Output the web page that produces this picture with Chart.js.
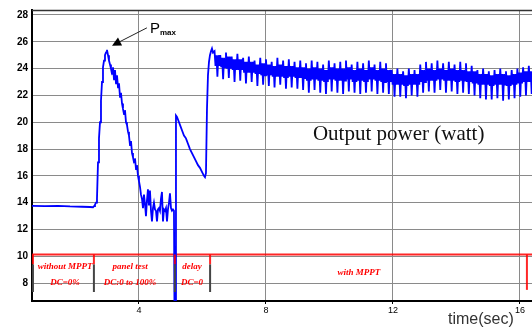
<!DOCTYPE html>
<html>
<head>
<meta charset="utf-8">
<script src="https://cdn.jsdelivr.net/npm/chart.js@4.4.1/dist/chart.umd.min.js"></script>
<style>
  html, body { margin: 0; padding: 0; background: #fff; }
  #wrap { width: 532px; height: 332px; }
</style>
</head>
<body>
<div id="wrap"><canvas id="powerChart" width="532" height="332"></canvas></div>
<script>
// axis ranges and tick labels
const xRange = [0.63, 16.38];
const yRange = [6.67, 28.37];
const xTicks = [4, 8, 12, 16];
const yTicks = [8, 10, 12, 14, 16, 18, 20, 22, 24, 26, 28];

// start-up part of the trace, [time (s), power (W)]
const startupTrace = [
  [0.630, 13.76], [1.039, 13.74], [1.449, 13.77], [1.827, 13.72], [2.205, 13.70], [2.457, 13.68], [2.551, 13.66],
  [2.583, 13.75], [2.614, 13.85], [2.646, 14.0], [2.677, 14.3], [2.709, 17.0], [2.740, 18.8], [2.772, 20.0],
  [2.803, 21.6], [2.835, 23.0], [2.866, 24.1], [2.898, 24.6], [2.929, 25.0], [2.961, 25.2], [2.992, 25.4],
  [3.024, 25.0], [3.055, 24.6], [3.087, 24.3], [3.118, 24.0], [3.150, 23.6], [3.181, 24.1], [3.213, 23.2],
  [3.244, 23.9], [3.276, 22.9], [3.307, 23.5], [3.339, 22.6], [3.370, 22.9], [3.402, 21.9], [3.433, 22.2],
  [3.465, 21.4], [3.496, 21.0], [3.528, 20.6], [3.559, 20.9], [3.591, 20.0], [3.622, 19.8], [3.654, 19.3],
  [3.685, 19.0], [3.717, 18.3], [3.748, 18.6], [3.780, 17.7], [3.811, 17.4], [3.843, 17.0], [3.874, 17.3],
  [3.906, 16.5], [3.937, 16.8], [3.969, 16.0], [4.000, 15.6], [4.031, 15.2], [4.063, 14.6], [4.094, 14.3],
  [4.126, 13.6], [4.157, 14.6], [4.189, 13.9], [4.220, 13.0], [4.252, 14.2], [4.283, 15.0], [4.315, 13.8],
  [4.346, 14.9], [4.378, 13.4], [4.409, 12.6], [4.441, 13.6], [4.472, 14.0], [4.504, 13.5], [4.535, 13.4],
  [4.567, 12.6], [4.598, 13.5], [4.630, 13.6], [4.661, 13.4], [4.693, 14.3], [4.724, 14.8], [4.756, 12.6],
  [4.787, 13.5], [4.819, 13.4], [4.850, 13.6], [4.882, 12.6], [4.913, 13.5], [4.945, 14.0], [4.976, 14.7],
  [5.008, 13.6], [5.039, 13.4], [5.071, 13.5], [5.102, 13.4], [5.118, 6.0], [5.150, 6.0], [5.165, 20.5],
  [5.197, 20.4], [5.228, 20.2], [5.291, 19.8], [5.354, 19.4], [5.417, 19.0], [5.480, 18.8], [5.543, 18.4],
  [5.606, 18.0], [5.669, 17.7], [5.732, 17.4], [5.795, 17.1], [5.858, 16.8], [5.921, 16.6], [5.984, 16.3],
  [6.047, 16.0], [6.079, 15.9], [6.110, 16.2], [6.142, 21.0], [6.173, 23.5], [6.205, 24.5], [6.236, 25.0],
  [6.268, 25.3], [6.299, 25.5], [6.331, 25.2]
];

// steady MPPT ripple, per cycle: upper spike, band top, band bottom, lower spike
const steadyStart = 6.38;
const rippleCycle = 0.18;
const steadyPeaks = [25.3, 25.0, 25.2, 24.9, 25.1,
  24.8, 24.9, 24.6, 24.8, 24.7, 24.5, 24.8, 24.6, 24.7, 24.5, 24.6,
  24.4, 24.6, 24.5, 24.3, 24.6, 24.4, 24.5, 24.6, 24.3, 24.5, 24.4, 24.6, 24.3, 24.5, 24.4,
  23.9, 24.0, 23.8, 24.0, 23.9,
  24.3, 24.5, 24.4, 24.6, 24.4, 24.5, 24.3, 24.5, 24.4, 24.2,
  23.9, 24.0, 23.8, 23.9, 24.0, 23.8, 23.9, 24.0,
  24.1, 24.2];
const steadyBandTop = [25.0, 24.8, 24.9, 24.7, 24.7,
  24.5, 24.5, 24.3, 24.4, 24.3, 24.2, 24.3, 24.2, 24.2, 24.1, 24.1,
  24.0, 24.1, 24.0, 23.9, 24.1, 24.0, 24.0, 24.1, 23.9, 24.0, 23.9, 24.1, 23.9, 24.0, 23.9,
  23.6, 23.6, 23.5, 23.6, 23.6,
  23.9, 24.0, 23.9, 24.0, 23.9, 24.0, 23.9, 23.9, 23.8, 23.8,
  23.6, 23.6, 23.5, 23.6, 23.6, 23.5, 23.6, 23.7,
  23.8, 23.8];
const steadyBandBottom = [24.2, 24.1, 24.0, 23.9, 23.9,
  23.7, 23.7, 23.6, 23.5, 23.5, 23.4, 23.4, 23.3, 23.4, 23.3, 23.3,
  23.1, 23.2, 23.1, 23.0, 23.2, 23.1, 23.1, 23.2, 23.0, 23.1, 23.0, 23.2, 23.1, 23.0, 23.0,
  22.8, 22.8, 22.7, 22.8, 22.8,
  23.0, 23.1, 23.1, 23.2, 23.1, 23.1, 23.0, 23.1, 23.0, 22.9,
  22.8, 22.8, 22.7, 22.8, 22.8, 22.7, 22.8, 22.9,
  23.0, 23.0];
const steadyTroughs = [23.4, 23.2, 23.3, 23.0, 23.1,
  22.9, 23.0, 22.7, 22.8, 22.7, 22.6, 22.8, 22.5, 22.6, 22.5, 22.4,
  22.2, 22.4, 22.2, 22.1, 22.3, 22.2, 22.1, 22.3, 22.2, 22.1, 22.2, 22.3, 22.1, 22.2, 22.1,
  21.9, 21.9, 21.8, 22.0, 21.9,
  22.2, 22.3, 22.2, 22.4, 22.2, 22.3, 22.1, 22.2, 22.1, 22.0,
  21.8, 21.7, 21.7, 21.8, 21.6, 21.7, 21.8, 21.9,
  22.0, 22.1];

// red reference level and the phase boundaries under it
const refLevel = 10.14;
const phaseBounds = [0.66, 2.58, 5.13, 6.24];
const lastBound = 16.22;
const phaseLabels = [
  { t: 1.67, lines: ['without MPPT', 'DC=0%'] },
  { t: 3.72, lines: ['panel test', 'DC:0 to 100%'] },
  { t: 5.67, lines: ['delay', 'DC=0'] },
  { t: 10.93, lines: ['with MPPT'] }
];

// Pmax marker: arrow tail / tip in data units
const pmaxTail = [4.25, 27.04];
const pmaxTip = [3.15, 25.71];

function buildTrace() {
  const pts = startupTrace.map(p => ({ x: p[0], y: p[1] }));
  const step = rippleCycle / 6;
  for (let i = 0; i < steadyPeaks.length; i++) {
    const t0 = steadyStart + i * rippleCycle;
    const cycle = [steadyPeaks[i], steadyBandBottom[i], steadyBandTop[i],
                   steadyTroughs[i], steadyBandTop[i], steadyBandBottom[i]];
    cycle.forEach((v, k) => pts.push({ x: t0 + k * step, y: v }));
  }
  return pts;
}

const extras = {
  id: 'extras',
  afterDatasetsDraw(chart) {
    const ctx = chart.ctx, a = chart.chartArea;
    const sx = chart.scales.x, sy = chart.scales.y;
    const X = v => sx.getPixelForValue(v), Y = v => sy.getPixelForValue(v);
    ctx.save();

    // frame top line
    ctx.strokeStyle = '#333';
    ctx.lineWidth = 1.5;
    ctx.beginPath(); ctx.moveTo(a.left, a.top + 0.5); ctx.lineTo(a.right, a.top + 0.5); ctx.stroke();

    // phase separators: red top, dark below
    phaseBounds.forEach(t => {
      ctx.lineWidth = 2;
      ctx.strokeStyle = 'rgba(255,0,0,0.85)';
      ctx.beginPath(); ctx.moveTo(X(t), Y(refLevel)); ctx.lineTo(X(t), Y(9.4)); ctx.stroke();
      ctx.strokeStyle = '#444';
      ctx.beginPath(); ctx.moveTo(X(t), Y(9.4)); ctx.lineTo(X(t), Y(7.34)); ctx.stroke();
    });
    ctx.strokeStyle = 'rgba(255,0,0,0.85)';
    ctx.beginPath(); ctx.moveTo(X(lastBound), Y(refLevel)); ctx.lineTo(X(lastBound), Y(7.5)); ctx.stroke();

    // phase labels
    ctx.fillStyle = '#ff0000';
    ctx.font = 'italic bold 9px "Liberation Serif"';
    ctx.textAlign = 'center';
    ctx.textBaseline = 'middle';
    phaseLabels.forEach(p => {
      if (p.lines.length === 1) {
        ctx.fillText(p.lines[0], X(p.t), Y(8.8));
      } else {
        ctx.fillText(p.lines[0], X(p.t), Y(9.25));
        ctx.fillText(p.lines[1], X(p.t), Y(8.0));
      }
    });

    // Pmax arrow
    const tx = X(pmaxTail[0]), ty = Y(pmaxTail[1]);
    const hx = X(pmaxTip[0]), hy = Y(pmaxTip[1]);
    const ang = Math.atan2(hy - ty, hx - tx);
    ctx.strokeStyle = '#222';
    ctx.fillStyle = '#000';
    ctx.lineWidth = 1;
    ctx.beginPath(); ctx.moveTo(tx, ty); ctx.lineTo(hx - 7 * Math.cos(ang), hy - 7 * Math.sin(ang)); ctx.stroke();
    ctx.beginPath();
    ctx.moveTo(hx, hy);
    ctx.lineTo(hx - 9 * Math.cos(ang) + 4.5 * Math.sin(ang), hy - 9 * Math.sin(ang) - 4.5 * Math.cos(ang));
    ctx.lineTo(hx - 9 * Math.cos(ang) - 4.5 * Math.sin(ang), hy - 9 * Math.sin(ang) + 4.5 * Math.cos(ang));
    ctx.closePath(); ctx.fill();

    ctx.textAlign = 'left';
    ctx.textBaseline = 'alphabetic';
    ctx.font = '15px "Liberation Sans"';
    ctx.fillText('P', tx + 3, ty + 5);
    ctx.font = 'bold 8px "Liberation Sans"';
    ctx.fillText('max', tx + 13, ty + 7);

    // series caption and axis title
    ctx.fillStyle = '#111';
    ctx.font = '21px "Liberation Serif"';
    ctx.fillText('Output power (watt)', X(9.48), Y(18.7));
    ctx.fillStyle = '#333';
    ctx.font = '16px "Liberation Sans"';
    ctx.textBaseline = 'middle';
    ctx.fillText('time(sec)', 448, 320);
    ctx.restore();
  }
};

new Chart('powerChart', {
  type: 'line',
  data: {
    datasets: [{
      data: buildTrace(),
      borderColor: '#0000ff',
      borderWidth: 1.8,
      pointRadius: 0,
      tension: 0
    }, {
      data: [{ x: xRange[0], y: refLevel }, { x: xRange[1], y: refLevel }],
      borderColor: 'rgba(255,0,0,0.85)',
      borderWidth: 2,
      pointRadius: 0
    }]
  },
  options: {
    responsive: false,
    animation: false,
    events: [],
    layout: { padding: { top: 7, right: 0, left: 0, bottom: 0 } },
    plugins: { legend: { display: false }, tooltip: { enabled: false } },
    scales: {
      x: {
        type: 'linear', min: xRange[0], max: xRange[1],
        afterBuildTicks: s => { s.ticks = xTicks.map(v => ({ value: v })); },
        afterFit: s => { s.height = 31; },
        grid: { color: '#8a8a8a', lineWidth: 1, tickLength: 3, tickColor: '#000' },
        border: { color: '#000', width: 2 },
        ticks: { color: '#000', padding: 1, maxRotation: 0, font: { family: 'Liberation Sans', size: 9 } }
      },
      y: {
        min: yRange[0], max: yRange[1],
        afterBuildTicks: s => { s.ticks = yTicks.map(v => ({ value: v })); },
        afterFit: s => { s.width = 32; },
        grid: { color: '#8a8a8a', lineWidth: 1, drawTicks: false },
        border: { color: '#000', width: 2 },
        ticks: { color: '#000', padding: 4, font: { family: 'Liberation Sans', size: 10, weight: 'bold' } }
      }
    }
  },
  plugins: [extras]
});
</script>
</body>
</html>
